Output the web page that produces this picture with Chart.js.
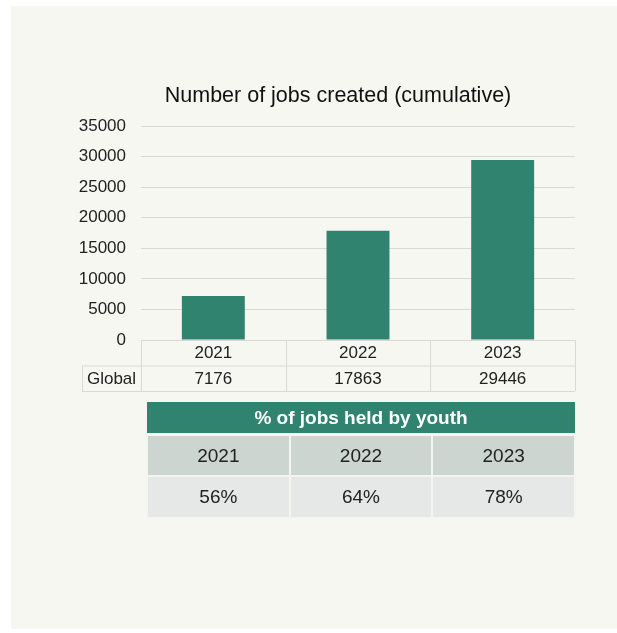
<!DOCTYPE html>
<html>
<head>
<meta charset="utf-8">
<script src="https://cdn.jsdelivr.net/npm/chart.js@4.4.1/dist/chart.umd.min.js"></script>
<style>
  html, body { margin: 0; padding: 0; background: #ffffff; }
  body { width: 617px; height: 633px; position: relative; overflow: hidden; font-family: "Liberation Sans", Arial, sans-serif; }
  #panel { position: absolute; left: 11px; top: 6px; width: 606px; height: 623px; background: #f7f7f2; }
  #chartCanva { position: absolute; left: 0; top: 0; }
  #title { position: absolute; left: 138px; top: 83px; width: 400px; text-align: center; font-size: 21.5px; line-height: 24px; color: #111; white-space: nowrap; }
  #youth { position: absolute; left: 146px; top: 402px; width: 430px; border-collapse: collapse; }
  #youth th { background: #2f836f; color: #ffffff; font-weight: bold; font-size: 19px; height: 31px; padding: 0; border-bottom: 3px solid #f4f5f1; }
  #youth td { font-size: 19px; color: #222; text-align: center; padding: 0; border: 2px solid #f4f5f1; }
  #youth tr.years td { background: #cdd5d1; height: 39px; }
  #youth tr.vals td { background: #e5e8e6; height: 40px; }
</style>
</head>
<body>
<div id="panel"></div>
<canvas id="chartCanva" width="617" height="633"></canvas>
<div id="title"></div>
<table id="youth">
  <thead><tr><th colspan="3" id="youthTitle"></th></tr></thead>
  <tbody>
    <tr class="years" id="youthYears"></tr>
    <tr class="vals" id="youthVals"></tr>
  </tbody>
</table>
<script>
// data
const chartTitle = "Number of jobs created (cumulative)";
const years = ["2021", "2022", "2023"];
const jobsCreated = [7176, 17863, 29446];
const youthTitle = "% of jobs held by youth";
const youthShare = ["56%", "64%", "78%"];
const rowLabel = "Global";

const fontFamily = '"Liberation Sans", Arial, sans-serif';
const gridColor = "#d9d9d9";

document.getElementById("title").textContent = chartTitle;
document.getElementById("youthTitle").textContent = youthTitle;

// fill the youth table
years.forEach((y, i) => {
    document.getElementById("youthYears").insertAdjacentHTML("beforeend", `<td>${y}</td>`);
    document.getElementById("youthVals").insertAdjacentHTML("beforeend", `<td>${youthShare[i]}</td>`);
});

// data table drawn under the x axis (years + values)
const dataTable = {
    id: "dataTable",
    afterDraw(chart) {
        const { ctx, chartArea, scales } = chart;
        const x = scales.x;
        const rowH = 25.5;
        const top = chartArea.bottom;
        const mid = top + rowH;
        const bottom = mid + rowH;
        const labelLeft = chartArea.left - 59;
        const step = (chartArea.right - chartArea.left) / years.length;

        ctx.save();
        ctx.strokeStyle = gridColor;
        ctx.lineWidth = 1;
        ctx.beginPath();
        // horizontal lines
        ctx.moveTo(chartArea.left, top + 0.5); ctx.lineTo(chartArea.right, top + 0.5);
        ctx.moveTo(labelLeft, mid + 0.5); ctx.lineTo(chartArea.right, mid + 0.5);
        ctx.moveTo(labelLeft, bottom + 0.5); ctx.lineTo(chartArea.right, bottom + 0.5);
        // vertical lines
        ctx.moveTo(labelLeft + 0.5, mid); ctx.lineTo(labelLeft + 0.5, bottom);
        for (let i = 0; i <= years.length; i++) {
            const px = Math.round(chartArea.left + i * step) + 0.5;
            ctx.moveTo(px, top); ctx.lineTo(px, bottom);
        }
        ctx.stroke();

        ctx.fillStyle = "#222";
        ctx.font = `17px ${fontFamily}`;
        ctx.textAlign = "center";
        ctx.textBaseline = "middle";
        years.forEach((y, i) => {
            const cx = x.getPixelForValue(i);
            ctx.fillText(y, cx, top + rowH / 2 + 1);
            ctx.fillText(String(jobsCreated[i]), cx, mid + rowH / 2 + 1);
        });
        ctx.fillText(rowLabel, (labelLeft + chartArea.left) / 2, mid + rowH / 2 + 1);
        ctx.restore();
    },
};

new Chart(document.getElementById("chartCanva"), {
    type: "bar",
    data: {
        labels: years,
        datasets: [
            {
                label: chartTitle,
                data: jobsCreated,
                backgroundColor: "#2f836f",
                categoryPercentage: 1.0,
                barPercentage: 0.435,
            },
        ],
    },
    options: {
        responsive: false,
        animation: false,
        layout: { padding: { top: 126, left: 61, right: 42, bottom: 293 } },
        plugins: {
            legend: { display: false },
            tooltip: { enabled: false },
        },
        scales: {
            x: { display: false },
            y: {
                min: 0,
                max: 35000,
                afterFit(scale) { scale.width = 80; },
                border: { display: false },
                grid: { color: gridColor, drawTicks: false },
                ticks: {
                    stepSize: 5000,
                    padding: 15,
                    color: "#222",
                    font: { family: fontFamily, size: 17 },
                    callback: (v) => String(v),
                },
            },
        },
    },
    plugins: [dataTable],
});
</script>
</body>
</html>
